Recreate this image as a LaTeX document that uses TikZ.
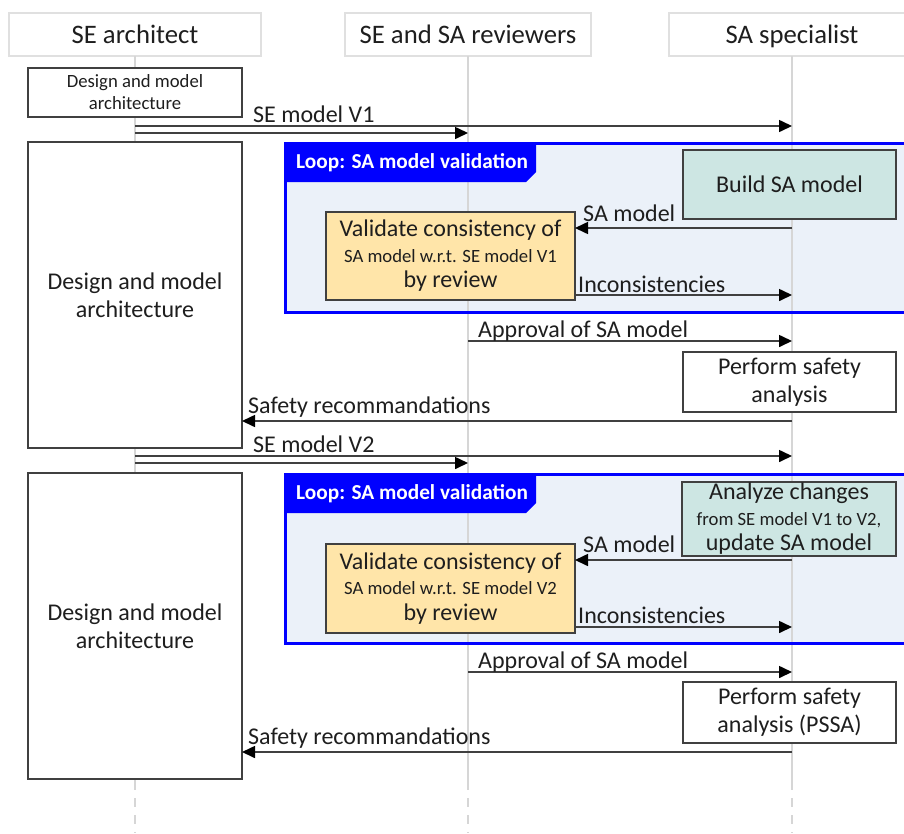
\documentclass[tikz,border=0pt]{standalone}
\usepackage{fontspec}
\setmainfont{Carlito}
\usetikzlibrary{arrows.meta}
\definecolor{ink}{HTML}{1E1E1E}
\definecolor{edge}{HTML}{404040}
\definecolor{hdrline}{HTML}{E0E0E0}
\definecolor{lifeln}{HTML}{D6D6D6}
\definecolor{loopblue}{HTML}{0000FF}
\definecolor{loopfill}{HTML}{EBF1F9}
\definecolor{tealfill}{HTML}{CDE6E3}
\definecolor{amberfill}{HTML}{FFE5A9}
\begin{document}
\begin{tikzpicture}[x=1pt,y=-1pt,
  txt/.style={font=\fontsize{24}{28}\selectfont},
  tighttxt/.style={font=\fontsize{24}{25.5}\selectfont},
  smalltxt/.style={font=\fontsize{18.7}{22}\selectfont},
  hdr/.style={draw=hdrline, line width=2.5pt, fill=white, inner sep=0pt, outer sep=0pt,
    text=ink, font=\fontsize{26.7}{30}\selectfont, text height=18pt, text depth=1pt},
  actbox/.style={draw=edge, line width=1.3pt, fill=white, inner sep=0pt, outer sep=0pt,
    text=ink, align=center},
  life/.style={draw=lifeln, line width=1.5pt},
  lifedash/.style={life, dash pattern=on 9pt off 8pt},
  msg/.style={draw=edge, line width=1.6pt, -{Triangle[length=13pt,width=12pt,color=black]}},
  lbl/.style={anchor=base west, inner sep=0pt, text=ink, txt},
  looplbl/.style={anchor=west, inner sep=0pt, text=white,
    font=\bfseries\fontsize{21.3}{24}\selectfont},
  loopframe/.style={draw=loopblue, line width=3pt}
]
\useasboundingbox (0,0) rectangle (904,833);
\clip (0,0) rectangle (904,833);

% loop backgrounds
\fill[loopfill] (285,143) rectangle (915,312);
\fill[loopfill] (285,474) rectangle (915,643);

% lifeline heads
\node[hdr, minimum width=252pt, minimum height=43pt] (hdrA) at (135,34.5) {SE architect};
\node[hdr, minimum width=246pt, minimum height=43pt] (hdrB) at (468,34.5) {SE and SA reviewers};
\node[hdr, minimum width=246pt, minimum height=43pt] (hdrC) at (792,34.5) {SA specialist};

% lifelines
\coordinate (endA) at (135,781);
\coordinate (endB) at (468,781);
\coordinate (endC) at (792,781);
\coordinate (botA) at (135,833);
\coordinate (botB) at (468,833);
\coordinate (botC) at (792,833);
\draw[life] (hdrA.south) -- (endA);
\draw[life] (hdrB.south) -- (endB);
\draw[life] (hdrC.south) -- (endC);
\draw[lifedash] (endA) -- (botA);
\draw[lifedash] (endB) -- (botB);
\draw[lifedash] (endC) -- (botC);

% loop frames with their tabs
\draw[loopframe] (285,143) rectangle (915,312);
\fill[loopblue] (285,143) -- (536,143) -- (536,172) -- (526,182) -- (285,182) -- cycle;
\node[looplbl] (loopA) at (296,162.5) {Loop: SA model validation};
\draw[loopframe] (285,474) rectangle (915,643);
\fill[loopblue] (285,474) -- (536,474) -- (536,503) -- (526,513) -- (285,513) -- cycle;
\node[looplbl] (loopB) at (296,493.5) {Loop: SA model validation};

% activities
\node[actbox, smalltxt, minimum width=214pt, minimum height=49pt] (act0) at (135,92.5)
  {Design and model\\architecture};
\node[actbox, txt, minimum width=214pt, minimum height=306pt] (act1) at (135,295)
  {Design and model\\architecture};
\node[actbox, txt, fill=tealfill, minimum width=213pt, minimum height=69pt] (build) at (789.5,184.5)
  {Build SA model};
\node[actbox, tighttxt, fill=amberfill, minimum width=249pt, minimum height=88pt] (val1) at (450.5,256)
  {Validate consistency of\\{\fontsize{18.7}{25.5}\selectfont SA model w.r.t. SE model V1}\\by review};
\node[actbox, txt, minimum width=213pt, minimum height=60pt] (perf1) at (789.5,382)
  {Perform safety\\analysis};
\node[actbox, txt, minimum width=214pt, minimum height=306pt] (act2) at (135,626)
  {Design and model\\architecture};
\node[actbox, tighttxt, fill=tealfill, minimum width=214pt, minimum height=74pt] (analyze) at (789,519)
  {Analyze changes\\{\fontsize{18.7}{25.5}\selectfont from SE model V1 to V2,}\\update SA model};
\node[actbox, tighttxt, fill=amberfill, minimum width=249pt, minimum height=89pt] (val2) at (450.5,588.5)
  {Validate consistency of\\{\fontsize{18.7}{25.5}\selectfont SA model w.r.t. SE model V2}\\by review};
\node[actbox, txt, minimum width=213pt, minimum height=61pt] (perf2) at (789.5,712.5)
  {Perform safety\\analysis (PSSA)};

% messages, first iteration
\coordinate (seA) at (135,126);
\coordinate (seB) at (135,133);
\draw[msg] (seA) -- (seA -| hdrC.south);
\draw[msg] (seB) -- (seB -| hdrB.south);
\node[lbl] (m1) at (253,122) {SE model V1};

\coordinate (samA) at (792,228);
\draw[msg] (samA) -- (samA -| val1.east);
\node[lbl] (m2) at (583,221) {SA model};

\coordinate (incA) at (792,295);
\draw[msg] (incA -| val1.east) -- (incA);
\node[lbl] (m3) at (578,292) {Inconsistencies};

\coordinate (appA) at (468,341);
\draw[msg] (appA) -- (appA -| hdrC.south);
\node[lbl] (m4) at (478,337) {Approval of SA model};

\coordinate (recA) at (792,421);
\draw[msg] (recA) -- (recA -| act1.east);
\node[lbl] (m5) at (248,413) {Safety recommandations};

% messages, second iteration
\coordinate (seC) at (135,456);
\coordinate (seD) at (135,463);
\draw[msg] (seC) -- (seC -| hdrC.south);
\draw[msg] (seD) -- (seD -| hdrB.south);
\node[lbl] (m6) at (253,452) {SE model V2};

\coordinate (samB) at (792,560);
\draw[msg] (samB) -- (samB -| val2.east);
\node[lbl] (m7) at (583,552) {SA model};

\coordinate (incB) at (792,627);
\draw[msg] (incB -| val2.east) -- (incB);
\node[lbl] (m8) at (578,623) {Inconsistencies};

\coordinate (appB) at (468,672);
\draw[msg] (appB) -- (appB -| hdrC.south);
\node[lbl] (m9) at (478,668) {Approval of SA model};

\coordinate (recB) at (792,752);
\draw[msg] (recB) -- (recB -| act2.east);
\node[lbl] (m10) at (248,744) {Safety recommandations};
\end{tikzpicture}
\end{document}
